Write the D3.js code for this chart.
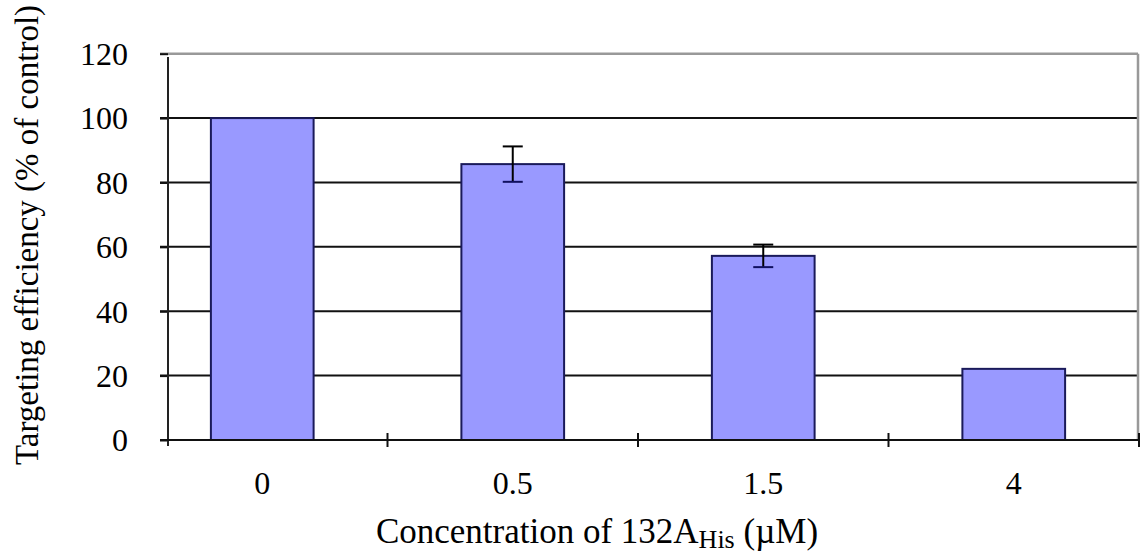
<!DOCTYPE html>
<html><head><meta charset="utf-8">
<script src="https://cdn.jsdelivr.net/npm/d3@7"></script>
<style>body{margin:0;background:#fff;}svg{display:block;}text{font-family:"Liberation Serif","Times New Roman",serif;fill:#000;}</style>
</head><body>
<svg id="c" width="1141" height="559"></svg>
<script>
const categories = ["0", "0.5", "1.5", "4"];
const values = [100, 85.7, 57.2, 22.1];
const errors = [0, 5.5, 3.5, 0];
const yTicks = [0, 20, 40, 60, 80, 100, 120];

const svg = d3.select("#c");
const x = d3.scaleBand().domain(categories).range([137, 1139]).paddingInner(0.59).paddingOuter(0.295);
const y = d3.scaleLinear().domain([0, 120]).range([440, 53.7]);
const axisX = 168, rightX = 1138;

// gridlines
svg.append("g").selectAll("line").data(yTicks.filter(d => d > 0)).join("line")
  .attr("x1", 160).attr("x2", rightX).attr("y1", d => y(d)).attr("y2", d => y(d))
  .attr("stroke", d => d === 120 ? "#999" : "#111").attr("stroke-width", d => d === 120 ? 2.5 : 2);
// right border
svg.append("line").attr("x1", rightX).attr("x2", rightX).attr("y1", y(120)).attr("y2", y(0))
  .attr("stroke", "#999").attr("stroke-width", 2.5);

// y axis
const yAxis = d3.axisLeft(y).tickValues(yTicks).tickSize(8).tickPadding(32).tickFormat(d3.format("d"));
const gy = svg.append("g").attr("transform", `translate(${axisX},0)`).call(yAxis);
gy.select(".domain").remove();
gy.selectAll(".tick line").attr("stroke", "#111").attr("stroke-width", 2);
gy.selectAll(".tick text").attr("font-size", 32).attr("font-family", "Liberation Serif").attr("dy", "0.34em");
svg.append("line").attr("x1", axisX).attr("x2", axisX).attr("y1", 57).attr("y2", 446)
  .attr("stroke", "#222").attr("stroke-width", 2);

// bars
svg.append("g").selectAll("rect").data(values).join("rect")
  .attr("x", (d, i) => x(categories[i])).attr("width", x.bandwidth())
  .attr("y", d => y(d)).attr("height", d => y(0) - y(d))
  .attr("fill", "#9999ff").attr("stroke", "#1a1a5a").attr("stroke-width", 2);

// x axis
svg.append("line").attr("x1", 160).attr("x2", rightX + 2).attr("y1", y(0)).attr("y2", y(0))
  .attr("stroke", "#111").attr("stroke-width", 2);
const bounds = categories.map(c => x(c) + x.bandwidth() / 2 + x.step() / 2);
svg.append("g").selectAll("line").data(bounds).join("line")
  .attr("x1", d => d).attr("x2", d => d).attr("y1", y(0) - 7).attr("y2", y(0) + 7)
  .attr("stroke", "#111").attr("stroke-width", 2);
svg.append("g").selectAll("text").data(categories).join("text")
  .attr("x", d => x(d) + x.bandwidth() / 2).attr("y", 494)
  .attr("text-anchor", "middle").attr("font-size", 32).text(d => d);

// error bars
const eb = svg.append("g");
values.forEach((v, i) => {
  if (!errors[i]) return;
  const cx = x(categories[i]) + x.bandwidth() / 2;
  eb.append("line").attr("x1", cx).attr("x2", cx).attr("y1", y(v + errors[i])).attr("y2", y(v - errors[i]))
    .attr("stroke", "#000").attr("stroke-width", 2);
  [v + errors[i], v - errors[i]].forEach(e => {
    eb.append("line").attr("x1", cx - 10).attr("x2", cx + 10).attr("y1", y(e)).attr("y2", y(e))
      .attr("stroke", e > v ? "#000" : "#101060").attr("stroke-width", 2);
  });
});

// titles
svg.append("text").attr("transform", "translate(38,235) rotate(-90)").attr("text-anchor", "middle")
  .attr("font-size", 33).text("Targeting efficiency (% of control)");
const xt = svg.append("text").attr("x", 597).attr("y", 543).attr("text-anchor", "middle").attr("font-size", 35);
xt.append("tspan").text("Concentration of 132A");
xt.append("tspan").attr("font-size", 26).attr("dy", 5).text("His");
xt.append("tspan").attr("dy", -5).text(" (\u00b5M)");
</script>
</body></html>
